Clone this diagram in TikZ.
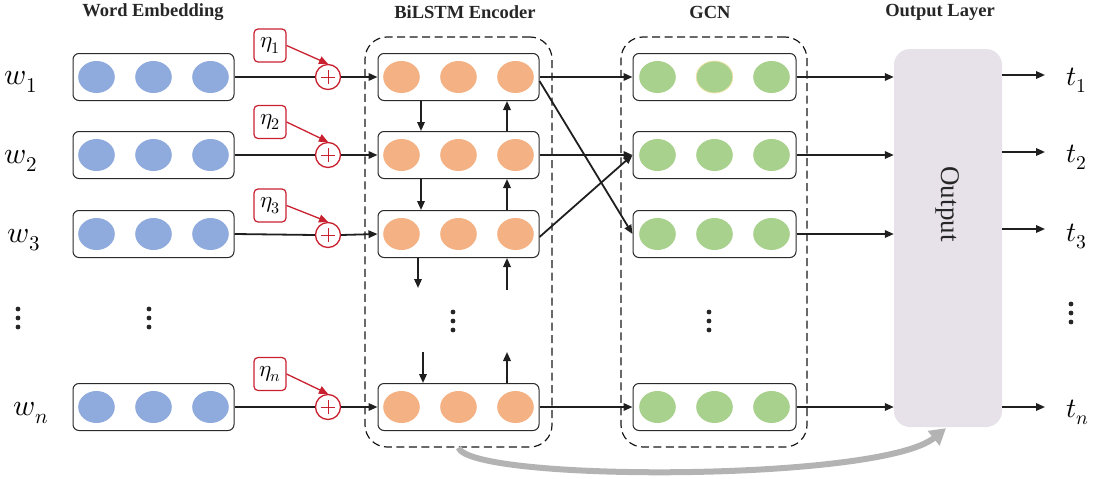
\documentclass[tikz,border=0pt]{standalone}
\usepackage{fontspec}
\usepackage{unicode-math}
\setmainfont{Liberation Serif}
\usetikzlibrary{arrows.meta,calc}
\definecolor{blu}{HTML}{8FAADC}
\definecolor{org}{HTML}{F4B183}
\definecolor{grn}{HTML}{A9D18E}
\definecolor{rd}{HTML}{C8202F}
\definecolor{outc}{HTML}{E7E1EA}
\definecolor{gry}{HTML}{B3B3B3}
\definecolor{edge}{HTML}{2A2A2A}
\newcommand\cellrow[5]{% name, x, y, colour, width
  \node[rowbox, minimum width=#5pt] (#1) at (#2,#3) {};
  \foreach \dx in {-57,0,57} \fill[#4] (#2+\dx,#3) ellipse [x radius=18.3pt, y radius=16pt];
}
\newcommand\vdotsat[2]{%
  \foreach \dy in {0,9,18} \fill[black!85] (#1,#2+\dy) circle [radius=2.4pt];
}
\begin{document}
\begin{tikzpicture}[x=1pt,y=-1pt,
  rowbox/.style={draw=edge, line width=1pt, rounded corners=6pt, minimum height=47pt, inner sep=0pt},
  grp/.style={draw=black!90, line width=1.2pt, dash pattern=on 8pt off 4.5pt, rounded corners=22pt, minimum height=410pt, inner sep=0pt},
  arr/.style={draw=black!88, line width=1.8pt, -{Triangle[length=9pt,width=7.5pt]}},
  plain/.style={draw=black!88, line width=1.8pt},
  etabox/.style={draw=rd, line width=1.2pt, rounded corners=4pt, minimum width=32pt, minimum height=33pt, inner sep=0pt, font=\fontsize{23}{23}\selectfont},
  plusc/.style={circle, draw=rd, line width=1.3pt, minimum size=25pt, inner sep=0pt, fill=white,
    path picture={\draw[rd, line width=0.9pt] ([xshift=-7pt]path picture bounding box.center) -- ([xshift=7pt]path picture bounding box.center) ([yshift=-7pt]path picture bounding box.center) -- ([yshift=7pt]path picture bounding box.center);}},
  redarr/.style={draw=rd, line width=1.3pt, -{Triangle[length=9pt,width=8pt]}},
  title/.style={font=\fontsize{18.5}{20}\selectfont\bfseries, text=black!85},
  lab/.style={font=\fontsize{30}{30}\selectfont},
  tlab/.style={font=\fontsize{28}{28}\selectfont}
]
\useasboundingbox (0,0) rectangle (1095,479);

% titles
\node[title] (tw) at (153,12) {Word Embedding};
\node[title] (tb) at (465,12) {BiLSTM Encoder};
\node[title] (tg) at (710,12) {GCN};
\node[title] (to) at (940,12) {Output Layer};

% dashed groups
\node[grp, minimum width=187pt] (bil) at (458.5,242) {};
\node[grp, minimum width=186pt] (gcn) at (714,242) {};

% output block
\node[fill=outc, rounded corners=16pt, minimum width=108pt, minimum height=378pt, inner sep=0pt] (out) at (948,238) {};
\node[rotate=-90, font=\fontsize{27}{27}\selectfont, text=black!85] (outlbl) at (948,204) {Output};

% rows
\cellrow{e1}{153.5}{77}{blu}{161}
\cellrow{e2}{153.5}{155}{blu}{161}
\cellrow{e3}{153.5}{234}{blu}{161}
\cellrow{en}{153.5}{407}{blu}{161}
\cellrow{b1}{458.5}{77}{org}{161}
\cellrow{b2}{458.5}{155}{org}{161}
\cellrow{b3}{458.5}{234}{org}{161}
\cellrow{bn}{458.5}{407}{org}{161}
\cellrow{g1}{714.5}{77}{grn}{163}
\cellrow{g2}{714.5}{155}{grn}{163}
\cellrow{g3}{714.5}{234}{grn}{163}
\cellrow{gn}{714.5}{407}{grn}{163}
\draw[draw={rgb,255:red,240;green,228;blue,170}, line width=0.8pt] (714.5,77) ellipse [x radius=18.3pt, y radius=16pt];

% word labels
\node[lab] (w1) at (21,82) {$w_1$};
\node[lab] (w2) at (21,161) {$w_2$};
\node[lab] (w3) at (24,240) {$w_3$};
\node[lab] (wn) at (31,413) {$w_n$};

% eta boxes and plus circles
\node[etabox] (h1) at (270,45.5) {$\eta_1$};
\node[etabox] (h2) at (270,122) {$\eta_2$};
\node[etabox] (h3) at (270,205.5) {$\eta_3$};
\node[etabox] (hn) at (270,374) {$\eta_n$};
\node[plusc] (p1) at (328,77) {};
\node[plusc] (p2) at (328,155) {};
\node[plusc] (p3) at (328,235) {};
\node[plusc] (pn) at (328,407) {};

\foreach \i in {1,2,3,n} {
  \draw[redarr] (h\i.east) -- (p\i.north);
  \draw[plain] (e\i.east) -- (p\i.west);
  \draw[arr] (p\i.east) -- (b\i.west);
}

% BiLSTM vertical arrows
\coordinate (d3) at (418,288);
\coordinate (u3) at (507,290);
\coordinate (dn) at (423,352);
\coordinate (un) at (507,352);
\draw[arr] (b1.south -| 421,0) -- (b2.north -| 421,0);
\draw[arr] (b2.north -| 507,0) -- (b1.south -| 507,0);
\draw[arr] (b2.south -| 421,0) -- (b3.north -| 421,0);
\draw[arr] (b3.north -| 507,0) -- (b2.south -| 507,0);
\draw[arr] (b3.south -| d3) -- (d3);
\draw[arr] (u3) -- (b3.south -| u3);
\draw[arr] (dn) -- (bn.north -| dn);
\draw[arr] (bn.north -| un) -- (un);

% BiLSTM -> GCN
\draw[arr] (b1.east) -- (g1.west);
\draw[arr] (b2.east) -- (g2.west);
\draw[arr] (bn.east) -- (gn.west);
\draw[arr] ([yshift=-4pt]b1.east) -- (g3.west);
\draw[arr] ([yshift=-3pt]b3.east) -- (g2.west);

% GCN -> output
\foreach \i in {1,2,3,n} \draw[arr] (g\i.east) -- (g\i.east -| out.west);

% output -> t
\coordinate (a1) at (1045,75);
\coordinate (a2) at (1045,152);
\coordinate (a3) at (1045,229);
\coordinate (an) at (1045,407);
\foreach \i in {1,2,3,n} \draw[arr] (a\i -| out.east) -- (a\i);
\node[tlab] (t1) at (1077,80) {$t_1$};
\node[tlab] (t2) at (1077,157) {$t_2$};
\node[tlab] (t3) at (1077,236) {$t_3$};
\node[tlab] (tn) at (1078,412) {$t_n$};

% vertical dots
\vdotsat{18}{309}
\vdotsat{149}{309}
\vdotsat{453}{312}
\vdotsat{709}{312}
\vdotsat{1071}{304}

% skip connection
\draw[gry, line width=6pt, -{Triangle[length=16pt,width=18pt]}] (bil.south) .. controls (470,482) and (880,482) .. ([xshift=-2pt,yshift=-1pt]out.south);
\end{tikzpicture}
\end{document}
